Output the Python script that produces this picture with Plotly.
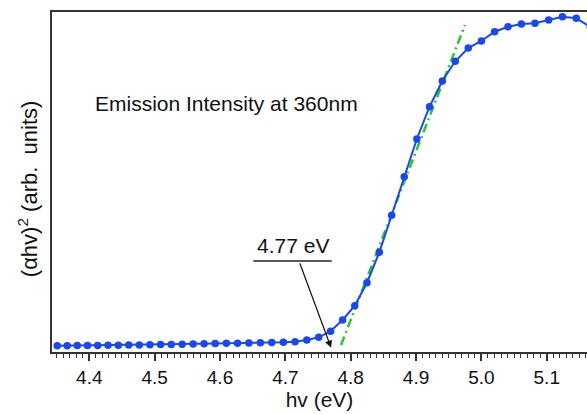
import plotly.graph_objects as go

# Photon energy (eV) of each measured point
energy_ev = [
    4.3509, 4.3662, 4.3816, 4.3972, 4.4128, 4.4286, 4.4444, 4.4604, 4.4765, 4.4928,
    4.5091, 4.5255, 4.5421, 4.5588, 4.5756, 4.5926, 4.6097, 4.6269, 4.6442, 4.6617,
    4.6792, 4.6970, 4.7148, 4.7328, 4.7510, 4.7692, 4.7876, 4.8062, 4.8249, 4.8438,
    4.8627, 4.8819, 4.9012, 4.9206, 4.9402, 4.9600, 4.9799, 5.0000, 5.0202, 5.0407,
    5.0612, 5.0820, 5.1029, 5.1240, 5.1452, 5.1667,
]

# (alpha h nu)^2 in arbitrary units
alpha_hv_sq = [
    1.82, 1.85, 1.88, 1.91, 1.94, 1.97, 2.00, 2.06, 2.09, 2.15,
    2.18, 2.24, 2.29, 2.35, 2.41, 2.50, 2.56, 2.59, 2.65, 2.72,
    2.79, 2.88, 3.03, 3.53, 4.32, 6.09, 9.41, 13.62, 20.38, 29.32,
    40.21, 51.56, 62.65, 72.15, 79.71, 85.50, 89.41, 91.47, 94.21, 95.68,
    96.47, 96.68, 97.65, 98.62, 98.15, 95.59,
]

# Linear fit to the absorption edge (extrapolated to the baseline)
fit_x = [4.7852, 4.9749]
fit_y = [2.06, 96.2]

band_gap_ev = 4.77
x_range = [4.3429, 5.1616]
y_range = [0, 100]

FONT = "Liberation Sans, Arial, Helvetica, sans-serif"
AXIS_COLOR = "#333333"

fig = go.Figure()

fig.add_trace(go.Scatter(
    x=fit_x, y=fit_y, mode="lines",
    line=dict(color="#22cc22", width=2.5, dash="9px,4px,2px,4px"),
    showlegend=False, hoverinfo="skip",
))

fig.add_trace(go.Scatter(
    x=energy_ev, y=alpha_hv_sq, mode="lines+markers",
    line=dict(color="#1a47f5", width=2),
    marker=dict(color="#1a47f5", size=7.5),
    showlegend=False, cliponaxis=True,
))

# Underline beneath the band-gap label
fig.add_shape(type="line", xref="x", yref="y",
              x0=4.651, x1=4.771, y0=26.76, y1=26.76,
              line=dict(color="#222222", width=1.5))

fig.add_annotation(x=4.711, y=31.4, xref="x", yref="y",
                   text=f"{band_gap_ev:.2f} eV", showarrow=False,
                   font=dict(family=FONT, size=21, color="#111111"),
                   xanchor="center", yanchor="middle")

# Arrow from the label down to the intercept
fig.add_annotation(x=band_gap_ev, y=1.26, xref="x", yref="y",
                   ax=4.7213, ay=26.56, axref="x", ayref="y",
                   text="", showarrow=True, arrowhead=2, arrowsize=1.2,
                   arrowwidth=1.2, arrowcolor="#111111", standoff=0)

fig.add_annotation(x=4.4060, y=73.0, xref="x", yref="y",
                   text="Emission Intensity at 360nm", showarrow=False,
                   font=dict(family=FONT, size=21, color="#111111"),
                   xanchor="left", yanchor="middle")

# Rotated y-axis title
fig.add_annotation(x=-0.046, y=0.48, xref="paper", yref="paper",
                   text="(αhv)<sup>2</sup> (arb.  units)", showarrow=False,
                   textangle=-90,
                   font=dict(family=FONT, size=22, color="#111111"),
                   xanchor="center", yanchor="middle")

fig.update_layout(
    width=587, height=414,
    margin=dict(l=52, r=0, t=12, b=62),
    paper_bgcolor="white", plot_bgcolor="white",
    font=dict(family=FONT, color="#111111"),
    xaxis=dict(
        range=x_range, showgrid=False, zeroline=False,
        showline=True, linecolor=AXIS_COLOR, linewidth=2, mirror=True,
        ticks="outside", ticklen=7, tickwidth=1.5, tickcolor=AXIS_COLOR,
        tick0=4.4, dtick=0.1, tickformat=".1f",
        tickfont=dict(family=FONT, size=19, color="#111111"),
        minor=dict(dtick=0.01, tick0=4.4, ticks="outside", ticklen=4,
                   tickwidth=1.2, tickcolor=AXIS_COLOR),
        title=dict(text="hv (eV)", font=dict(family=FONT, size=21, color="#111111"),
                   standoff=4),
    ),
    yaxis=dict(
        range=y_range, showgrid=False, zeroline=False,
        showline=True, linecolor=AXIS_COLOR, linewidth=2, mirror=False,
        showticklabels=False, ticks="",
    ),
)

fig.write_html("out.html")
